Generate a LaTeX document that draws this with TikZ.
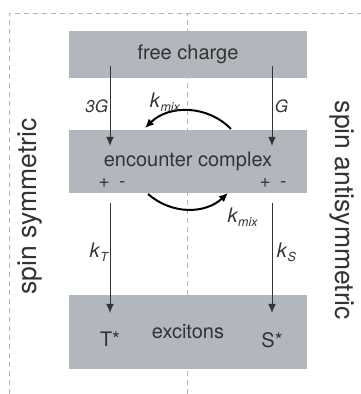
\documentclass[tikz,border=0pt]{standalone}
\usepackage{fontspec}
\setmainfont{TeX Gyre Heros}
\usepackage{xcolor}
\usetikzlibrary{arrows.meta,positioning}
\definecolor{boxgray}{HTML}{B2B6BD}
\definecolor{inkgray}{HTML}{333333}
\definecolor{dashgray}{HTML}{B5B5B5}

\begin{document}
\begin{tikzpicture}[
  x=1pt,y=1pt,
  font=\fontsize{20}{24}\selectfont,
  box/.style={fill=boxgray,text=inkgray,minimum width=238pt,inner sep=0pt,outer sep=0pt},
  frame/.style={draw=dashgray,line width=.8pt,dash pattern=on 5pt off 4pt},
  arr/.style={-{Latex[length=9pt,width=7.5pt]},line width=.9pt,draw=inkgray},
  mixarr/.style={-{Latex[length=9pt,width=8pt]},line width=2pt,draw=black},
  lab/.style={text=inkgray,font=\fontsize{17}{20}\selectfont\itshape,inner sep=1.5pt},
  klab/.style={text=inkgray,inner sep=1.5pt},
  pm/.style={text=inkgray,font=\fontsize{19}{20}\selectfont},
  side/.style={text=inkgray,font=\fontsize{26.5}{30}\selectfont}
]
\useasboundingbox (0,0) rectangle (361,394);
% dashed frame and centre line
\draw[frame] (9,0) |- (361,381);
\draw[frame] (187,0) -- (187,381);

\node[box,minimum height=47pt] (free) at (188,339.5) {free charge};
\node[box,minimum height=63pt,below=52pt of free] (enc) {encounter complex};
\node[box,minimum height=74pt,below=102pt of enc] (exc) {excitons};

\node[pm] (pmL) at ([xshift=-76pt,yshift=10pt]enc.south) {+\hspace{.5em}-};
\node[pm] (pmR) at ([xshift=85pt,yshift=10pt]enc.south) {+\hspace{.5em}-};
\node[klab] (tstar) at ([xshift=-78pt,yshift=-7pt]exc.center) {T*};
\node[klab] (sstar) at ([xshift=84pt,yshift=-8pt]exc.center) {S*};

\node[side,rotate=90] (symm) at (30,187.5) {spin symmetric};
\node[side,rotate=-90] (anti) at (342,183.5) {spin antisymmetric};

% rates
\draw[arr] ([xshift=-78pt,yshift=12pt]free.south) -- node[lab,left] {3G} ([xshift=-78pt,yshift=-16pt]enc.north);
\draw[arr] ([xshift=84pt,yshift=12pt]free.south) -- node[lab,right,xshift=1pt] {G} ([xshift=84pt,yshift=-16pt]enc.north);
\draw[arr] ([xshift=-78pt,yshift=-10pt]enc.south) -- node[klab,left,pos=.45] {\textit{k}\raisebox{-4pt}{\fontsize{12.5}{14}\selectfont\itshape T}} ([xshift=-78pt,yshift=-18pt]exc.north);
\draw[arr] ([xshift=84pt,yshift=-10pt]enc.south) -- node[klab,right,pos=.45,xshift=3pt] {\textit{k}\raisebox{-4pt}{\fontsize{12.5}{14}\selectfont\itshape S}} ([xshift=84pt,yshift=-18pt]exc.north);

% mixing
\draw[mixarr] ([xshift=43pt,yshift=1pt]enc.north) to[bend right=45] node[klab,pos=.8,above=3pt,xshift=4pt] {\textit{k}\raisebox{-4pt}{\fontsize{12.5}{14}\selectfont\itshape mix}} ([xshift=-43pt,yshift=2pt]enc.north);
\draw[mixarr] ([xshift=-40pt,yshift=-1pt]enc.south) to[bend right=42] node[klab,pos=1,anchor=north west,xshift=-3pt,yshift=-12pt] {\textit{k}\raisebox{-4pt}{\fontsize{12.5}{14}\selectfont\itshape mix}} ([xshift=40pt,yshift=0pt]enc.south);
\end{tikzpicture}
\end{document}
